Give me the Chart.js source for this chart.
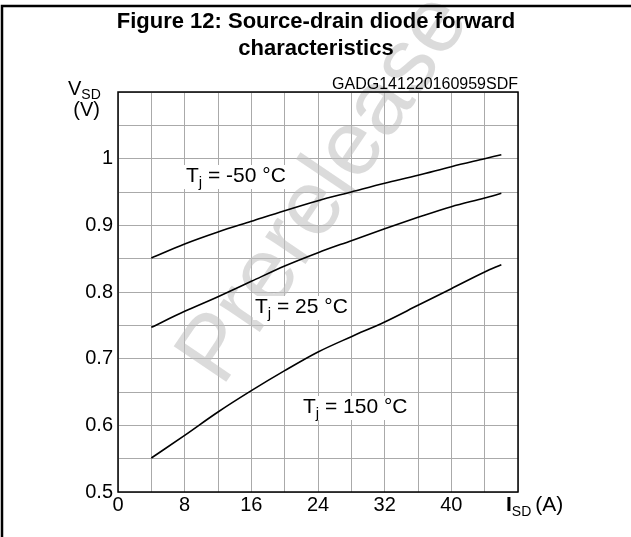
<!DOCTYPE html>
<html>
<head>
<meta charset="utf-8">
<script src="https://cdn.jsdelivr.net/npm/chart.js@4"></script>
<style>
  html, body { margin: 0; padding: 0; background: #fff; }
  #wrap { width: 631px; height: 537px; }
</style>
</head>
<body>
<div id="wrap"><canvas id="chart" width="631" height="537"></canvas></div>
<script>
const FONT = '"Liberation Sans", Arial, sans-serif';

// I_SD (A)
const currentA = [4, 8, 12, 16, 20, 24, 28, 32, 36, 40, 44, 46];
// V_SD (V) per junction temperature
const vMinus50 = [0.851, 0.872, 0.890, 0.906, 0.922, 0.937, 0.950, 0.963, 0.975, 0.988, 1.000, 1.006];
const v25 = [0.747, 0.771, 0.793, 0.816, 0.839, 0.859, 0.877, 0.895, 0.912, 0.928, 0.941, 0.948];
const v150 = [0.551, 0.585, 0.620, 0.652, 0.682, 0.710, 0.733, 0.755, 0.780, 0.805, 0.830, 0.841];

const seriesNames = ["-50 °C", "25 °C", "150 °C"];
const xTickLabels = [0, 8, 16, 24, 32, 40];
const yTickLabels = [0.5, 0.6, 0.7, 0.8, 0.9, 1];

const toPoints = ys => currentA.map((x, i) => ({x, y: ys[i]}));

function drawSub(ctx, x, y, main, sub, size, subSize, bold) {
    ctx.textAlign = "left";
    ctx.textBaseline = "alphabetic";
    ctx.font = (bold ? "bold " : "") + size + "px " + FONT;
    const w1 = ctx.measureText(main).width;
    ctx.fillText(main, x, y);
    ctx.font = subSize + "px " + FONT;
    const w2 = ctx.measureText(sub).width;
    ctx.fillText(sub, x + w1, y + size * 0.22);
    return x + w1 + w2;
}

function tempLabel(ctx, x, y, t) {
    ctx.font = "21px " + FONT;
    const wT = ctx.measureText("T").width;
    ctx.font = "15px " + FONT;
    const wj = ctx.measureText("j").width;
    ctx.font = "21px " + FONT;
    const rest = " = " + t;
    const wr = ctx.measureText(rest).width;
    ctx.fillStyle = "#fff";
    ctx.fillRect(x - 2, y - 17, wT + wj + wr + 4, 24);
    ctx.fillStyle = "#000";
    ctx.textAlign = "left";
    ctx.textBaseline = "alphabetic";
    ctx.fillText("T", x, y);
    ctx.font = "15px " + FONT;
    ctx.fillText("j", x + wT, y + 5);
    ctx.font = "21px " + FONT;
    ctx.fillText(rest, x + wT + wj, y);
}

const decor = {
    id: "decor",
    beforeDatasetsDraw(chart) {
        const ctx = chart.ctx;
        ctx.save();
        ctx.translate(222, 388);
        ctx.rotate(-56 * Math.PI / 180);
        ctx.font = "92px " + FONT;
        ctx.fillStyle = "rgba(190,190,190,0.55)";
        ctx.textBaseline = "alphabetic";
        ctx.fillText("Prerelease P", 0, 0);
        ctx.restore();
    },
    afterDraw(chart) {
        const ctx = chart.ctx;
        const a = chart.chartArea;
        ctx.save();
        // frame
        ctx.strokeStyle = "#000";
        ctx.lineWidth = 1.5;
        ctx.strokeRect(a.left, a.top, a.right - a.left, a.bottom - a.top);
        // page border
        ctx.lineWidth = 2.5;
        ctx.beginPath();
        ctx.moveTo(2, 537);
        ctx.lineTo(2, 6);
        ctx.lineTo(631, 6);
        ctx.stroke();

        ctx.fillStyle = "#000";
        ctx.textAlign = "center";
        ctx.textBaseline = "middle";
        ctx.font = "bold 22px " + FONT;
        ctx.fillText("Figure 12: Source-drain diode forward", 316, 22);
        ctx.fillText("characteristics", 316, 49);

        ctx.font = "16px " + FONT;
        ctx.textAlign = "right";
        ctx.textBaseline = "alphabetic";
        ctx.fillText("GADG141220160959SDF", a.right, a.top - 3);

        drawSub(ctx, 68, 95, "V", "SD", 20, 14, false);
        ctx.font = "20px " + FONT;
        ctx.textAlign = "right";
        ctx.fillText("(V)", 100, 116);

        const end = drawSub(ctx, 506, 511, "I", "SD", 21, 14, true);
        ctx.font = "21px " + FONT;
        ctx.textAlign = "left";
        ctx.fillText("(A)", end + 4, 511);

        tempLabel(ctx, 186, 182, seriesNames[0]);
        tempLabel(ctx, 255, 313, seriesNames[1]);
        tempLabel(ctx, 303, 413, seriesNames[2]);
        ctx.restore();
    }
};

new Chart(document.getElementById("chart"), {
    type: "line",
    data: {
        datasets: [vMinus50, v25, v150].map((ys, i) => ({
            label: seriesNames[i],
            data: toPoints(ys),
            borderColor: "#000",
            borderWidth: 1.6,
            pointRadius: 0,
            cubicInterpolationMode: "monotone",
            fill: false
        }))
    },
    options: {
        responsive: false,
        animation: false,
        events: [],
        layout: {padding: {left: 0, top: 92, right: 113, bottom: 0}},
        plugins: {legend: {display: false}, tooltip: {enabled: false}},
        scales: {
            x: {
                type: "linear",
                min: 0, max: 48,
                afterFit: s => { s.height = 45; },
                ticks: {
                    stepSize: 4,
                    autoSkip: false,
                    maxRotation: 0,
                    padding: 1,
                    color: "#000",
                    font: {family: FONT, size: 20},
                    callback: v => xTickLabels.includes(v) ? String(v) : ""
                },
                grid: {color: "#aaaaaa", lineWidth: 1, drawTicks: false},
                border: {display: false}
            },
            y: {
                min: 0.5, max: 1.1,
                afterFit: s => { s.width = 118; },
                afterBuildTicks: s => {
                    s.ticks = [];
                    for (let k = 10; k <= 22; k++) s.ticks.push({value: k * 0.05});
                },
                ticks: {
                    autoSkip: false,
                    padding: 5,
                    color: "#000",
                    font: {family: FONT, size: 20},
                    callback: v => {
                        const r = Math.round(v * 100) / 100;
                        return yTickLabels.includes(r) ? String(r) : "";
                    }
                },
                grid: {color: "#aaaaaa", lineWidth: 1, drawTicks: false},
                border: {display: false}
            }
        }
    },
    plugins: [decor]
});
</script>
</body>
</html>
